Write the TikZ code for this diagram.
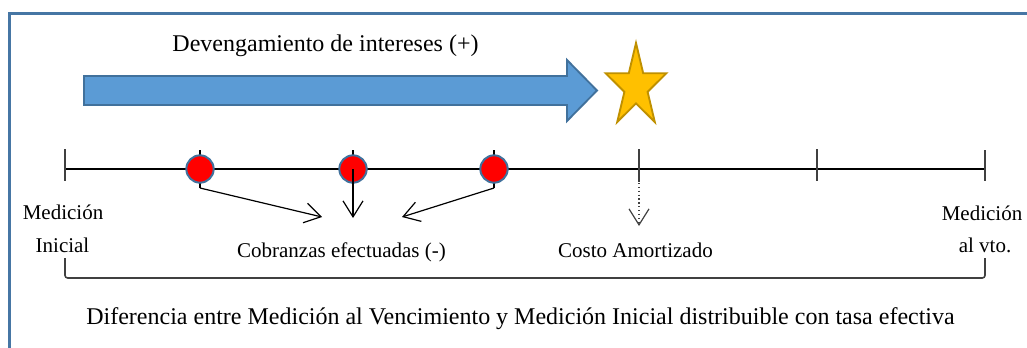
\documentclass[tikz,border=0pt]{standalone}
\usepackage{fontspec}
\setmainfont{Liberation Serif}
\usetikzlibrary{arrows.meta}
\definecolor{frameblue}{RGB}{70,118,164}
\definecolor{arrowblue}{RGB}{91,155,213}
\definecolor{arrowedge}{RGB}{65,113,156}
\definecolor{starfill}{RGB}{255,192,0}
\definecolor{staredge}{RGB}{191,144,0}
\definecolor{tickgray}{RGB}{64,64,64}
\tikzset{
  smalltext/.style={font=\fontsize{15.75pt}{18pt}\selectfont, anchor=base, inner sep=0pt},
  bigtext/.style={font=\fontsize{18pt}{21pt}\selectfont, anchor=base, inner sep=0pt},
  dot/.style={circle, minimum size=20.5pt, inner sep=0pt, fill=red, draw=arrowedge, line width=1.5pt},
  majortick/.style={draw=tickgray, line width=1.4pt},
  minortick/.style={draw=black, line width=0.8pt},
  openarrow/.style={-{Straight Barb[length=12pt,width=15pt,line width=0.9pt]}, line width=0.9pt, black},
  dotarrow/.style={-{Straight Barb[length=12pt,width=15pt,line width=0.9pt]}, line width=0.9pt, tickgray, dotted},
}
\begin{document}
\begin{tikzpicture}[x=0.75pt,y=-0.75pt]
\useasboundingbox (0,0) rectangle (1027,347);
% frame
\draw[frameblue, line width=2.25pt] (9,13) rectangle (1060,380);

% title
\node[bigtext] (title) at (325.5,51) {Devengamiento de intereses (+)};

% big arrow
\draw[fill=arrowblue, draw=arrowedge, line width=1.4pt]
  (84,76) -- (567,76) -- (567,60) -- (597,90.5) -- (567,121) -- (567,105) -- (84,105) -- cycle;

% star (y axis points down, so angles are negated)
\coordinate (sc) at (636,86.7);
\path
  (sc) +(-90:32 and 43.7) coordinate (s0)
  (sc) +(-126:12.2 and 16.7) coordinate (i0)
  (sc) +(-162:32 and 43.7) coordinate (s1)
  (sc) +(-198:12.2 and 16.7) coordinate (i1)
  (sc) +(-234:32 and 43.7) coordinate (s2)
  (sc) +(-270:12.2 and 16.7) coordinate (i2)
  (sc) +(-306:32 and 43.7) coordinate (s3)
  (sc) +(-342:12.2 and 16.7) coordinate (i3)
  (sc) +(-18:32 and 43.7) coordinate (s4)
  (sc) +(-54:12.2 and 16.7) coordinate (i4);
\draw[fill=starfill, draw=staredge, line width=1.4pt]
  (s0) -- (i0) -- (s1) -- (i1) -- (s2) -- (i2) -- (s3) -- (i3) -- (s4) -- (i4) -- cycle;

% timeline
\coordinate (t0) at (65,169);
\coordinate (t6) at (985,169);
\draw[black, line width=0.9pt] (t0) -- (t6);
\draw[majortick] (65,149) -- (65,181);
\draw[majortick] (639,149) -- (639,182);
\draw[majortick] (817,149) -- (817,181);
\draw[majortick] (985,150) -- (985,181);
\draw[minortick] (200,150) -- (200,188);
\draw[minortick] (353,150) -- (353,182);
\draw[minortick] (494,150) -- (494,188);

% collection dots
\node[dot] (c1) at (200,169) {};
\node[dot] (c2) at (353,169) {};
\node[dot] (c3) at (494,169) {};

% arrows
\coordinate (a1) at (200,188);
\coordinate (a3) at (494,188);
\coordinate (e1) at (322,217);
\coordinate (e2) at (353,218);
\coordinate (e3) at (402,217);
\coordinate (d0) at (639,183);
\coordinate (d1) at (639,226);
\draw[openarrow] (a1) -- (e1);
\draw[openarrow] (c2.center) -- (e2);
\draw[openarrow] (a3) -- (e3);
\draw[dotarrow] (d0) -- (d1);

% labels
\node[smalltext] (mi1) at (63,219) {Medición};
\node[smalltext] (mi2) at (62.5,252) {Inicial};
\node[smalltext] (cob) at (341.5,257) {Cobranzas efectuadas (-)};
\node[smalltext] (costo) at (635.5,257) {Costo Amortizado};
\node[smalltext] (mv1) at (982,220) {Medición};
\node[smalltext] (mv2) at (985,252) {al vto.};

% bracket
\draw[tickgray, line width=1.2pt, rounded corners=2pt] (65,258) -- (65,278) -- (985,278) -- (985,258);

\node[bigtext] (dif) at (520.5,324) {Diferencia entre Medición al Vencimiento y Medición Inicial distribuible con tasa efectiva};
\end{tikzpicture}
\end{document}
